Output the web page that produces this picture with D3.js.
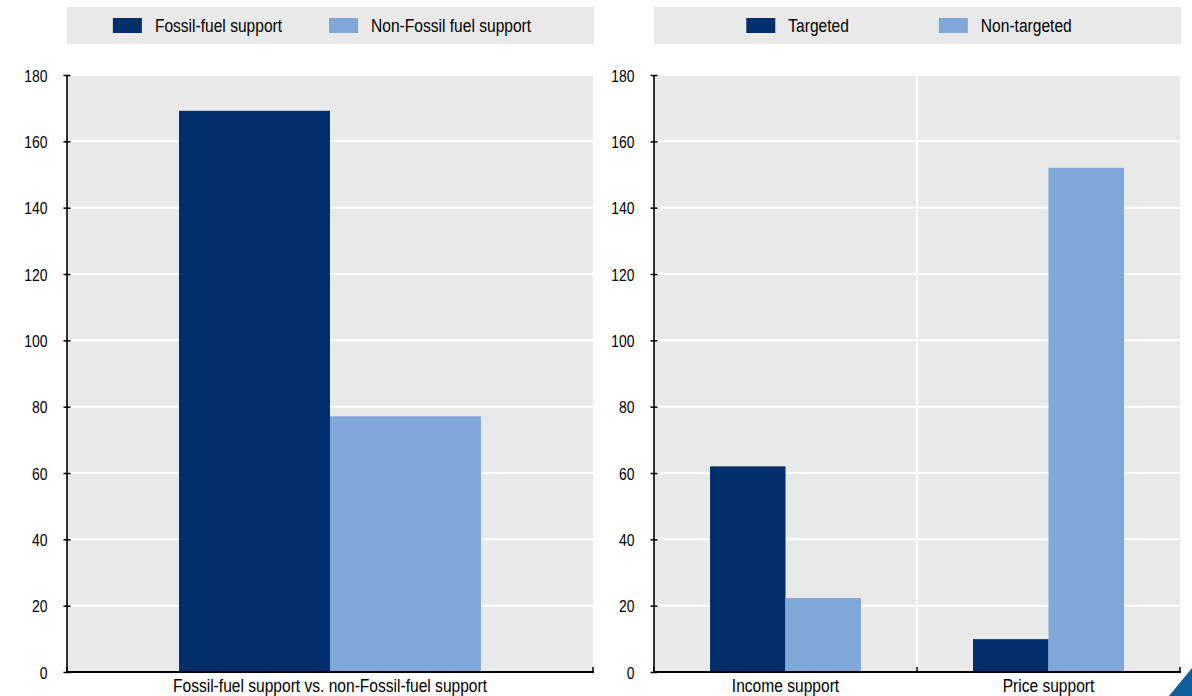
<!DOCTYPE html>
<html><head><meta charset="utf-8">
<script src="https://cdn.jsdelivr.net/npm/d3@7"></script>
<style>
html,body{margin:0;padding:0;background:#fff;}
svg{display:block;}
text{font-family:"Liberation Sans",Arial,sans-serif;fill:#000;}
</style></head>
<body><svg id="c" width="1192" height="696"></svg>
<script>
// ---- data ----
const leftCategories = ["Fossil-fuel support vs. non-Fossil-fuel support"];
const leftSeries = ["Fossil-fuel support", "Non-Fossil fuel support"];
const leftFossil = [169.2];
const leftNonFossil = [77.1];

const rightCategories = ["Income support", "Price support"];
const rightSeries = ["Targeted", "Non-targeted"];
const rightTargeted = [62.0, 9.9];
const rightNonTargeted = [22.3, 152.0];

const yTicks = [0, 20, 40, 60, 80, 100, 120, 140, 160, 180];
const colors = ["#002f6c", "#7fa8d9"];

const SX = 0.82; // horizontal condensation (Arial Narrow look)
const svg = d3.select("#c");

function narrowText(sel, x, y) {
  sel.attr("x", 0).attr("y", 0).attr("transform", `translate(${x},${y}) scale(${SX},1)`);
}

function panel(x0px, categories, series, valuesBySeries, legendGap) {
  const W = 526, top = 75, bottom = 672;
  const g = svg.append("g");
  g.append("rect").attr("x", x0px).attr("y", 7).attr("width", W + 1).attr("height", 37).attr("fill", "#e9e9e9");
  const leg = g.append("g");
  let cx = 0;
  series.forEach((s, i) => {
    const it = leg.append("g").attr("transform", `translate(${cx},0)`);
    it.append("rect").attr("x", 0).attr("y", 18).attr("width", 29).attr("height", 15).attr("fill", colors[i]);
    const t = it.append("text").attr("font-size", 19).text(s);
    narrowText(t, 42, 32);
    cx += 42 + t.node().getComputedTextLength() * SX + legendGap;
  });
  const total = cx - legendGap;
  leg.attr("transform", `translate(${x0px + W / 2 - total / 2 - 8},0)`);

  const y = d3.scaleLinear().domain([0, 180]).range([bottom, top]);
  const xb = d3.scaleBand().domain(categories).range([x0px, x0px + W]).padding(0);
  const bw = xb.bandwidth();
  const xs = d3.scaleBand().domain(series).range([bw * 0.213, bw * 0.787]).padding(0);

  g.append("rect").attr("x", x0px).attr("y", top).attr("width", W).attr("height", bottom - top).attr("fill", "#e9e9e9");
  g.append("g").selectAll("line").data(yTicks.filter(d => d > 0)).join("line")
    .attr("x1", x0px).attr("x2", x0px + W)
    .attr("y1", d => y(d)).attr("y2", d => y(d))
    .attr("stroke", "#fff").attr("stroke-width", 2);
  g.append("g").selectAll("line").data(categories.slice(1)).join("line")
    .attr("x1", d => xb(d)).attr("x2", d => xb(d))
    .attr("y1", top).attr("y2", bottom)
    .attr("stroke", "#fff").attr("stroke-width", 2);

  series.forEach((s, si) => {
    g.append("g").selectAll("rect").data(categories).join("rect")
      .attr("x", (c) => xb(c) + xs(s))
      .attr("width", xs.bandwidth())
      .attr("y", (c, ci) => y(valuesBySeries[si][ci]))
      .attr("height", (c, ci) => y(0) - y(valuesBySeries[si][ci]))
      .attr("fill", colors[si]);
  });

  const ya = d3.axisLeft(y).tickValues(yTicks).tickSizeInner(3).tickSizeOuter(0).tickPadding(19);
  const yg = g.append("g").attr("transform", `translate(${x0px - 0.5},0)`).call(ya);
  yg.select(".domain").attr("stroke", "#000").attr("stroke-width", 1.6);
  yg.selectAll(".tick line").attr("x2", -3).attr("x1", 4).attr("stroke", "#000").attr("stroke-width", 1.5);
  yg.selectAll(".tick text").attr("font-size", 17).attr("font-family", null).attr("fill", "#000")
    .attr("dy", null)
    .each(function () { narrowText(d3.select(this), -19, 6); });

  const xa = d3.axisBottom(xb).tickSize(0).tickPadding(10);
  const xg = g.append("g").attr("transform", `translate(0,${bottom})`).call(xa);
  xg.select(".domain").remove();
  xg.append("line").attr("x1", x0px - 1).attr("x2", x0px + W + 1).attr("y1", 0).attr("y2", 0).attr("stroke", "#000").attr("stroke-width", 2);
  const bounds = categories.map(c => xb(c)).concat([x0px + W]);
  xg.selectAll(".bt").data(bounds).join("line").attr("class", "bt")
    .attr("x1", d => d).attr("x2", d => d).attr("y1", -5).attr("y2", 0)
    .attr("stroke", "#000").attr("stroke-width", 1.5);
  xg.selectAll(".tick text").attr("font-size", 19).attr("font-family", null).attr("fill", "#000")
    .attr("dy", null)
    .each(function () { narrowText(d3.select(this), 0, 20); });
}

panel(67, leftCategories, leftSeries, [leftFossil, leftNonFossil], 47);
panel(654, rightCategories, rightSeries, [rightTargeted, rightNonTargeted], 90);

svg.append("path").attr("d", "M1192,668L1192,696L1169,696Z").attr("fill", "#0f5e98");
</script></body></html>
